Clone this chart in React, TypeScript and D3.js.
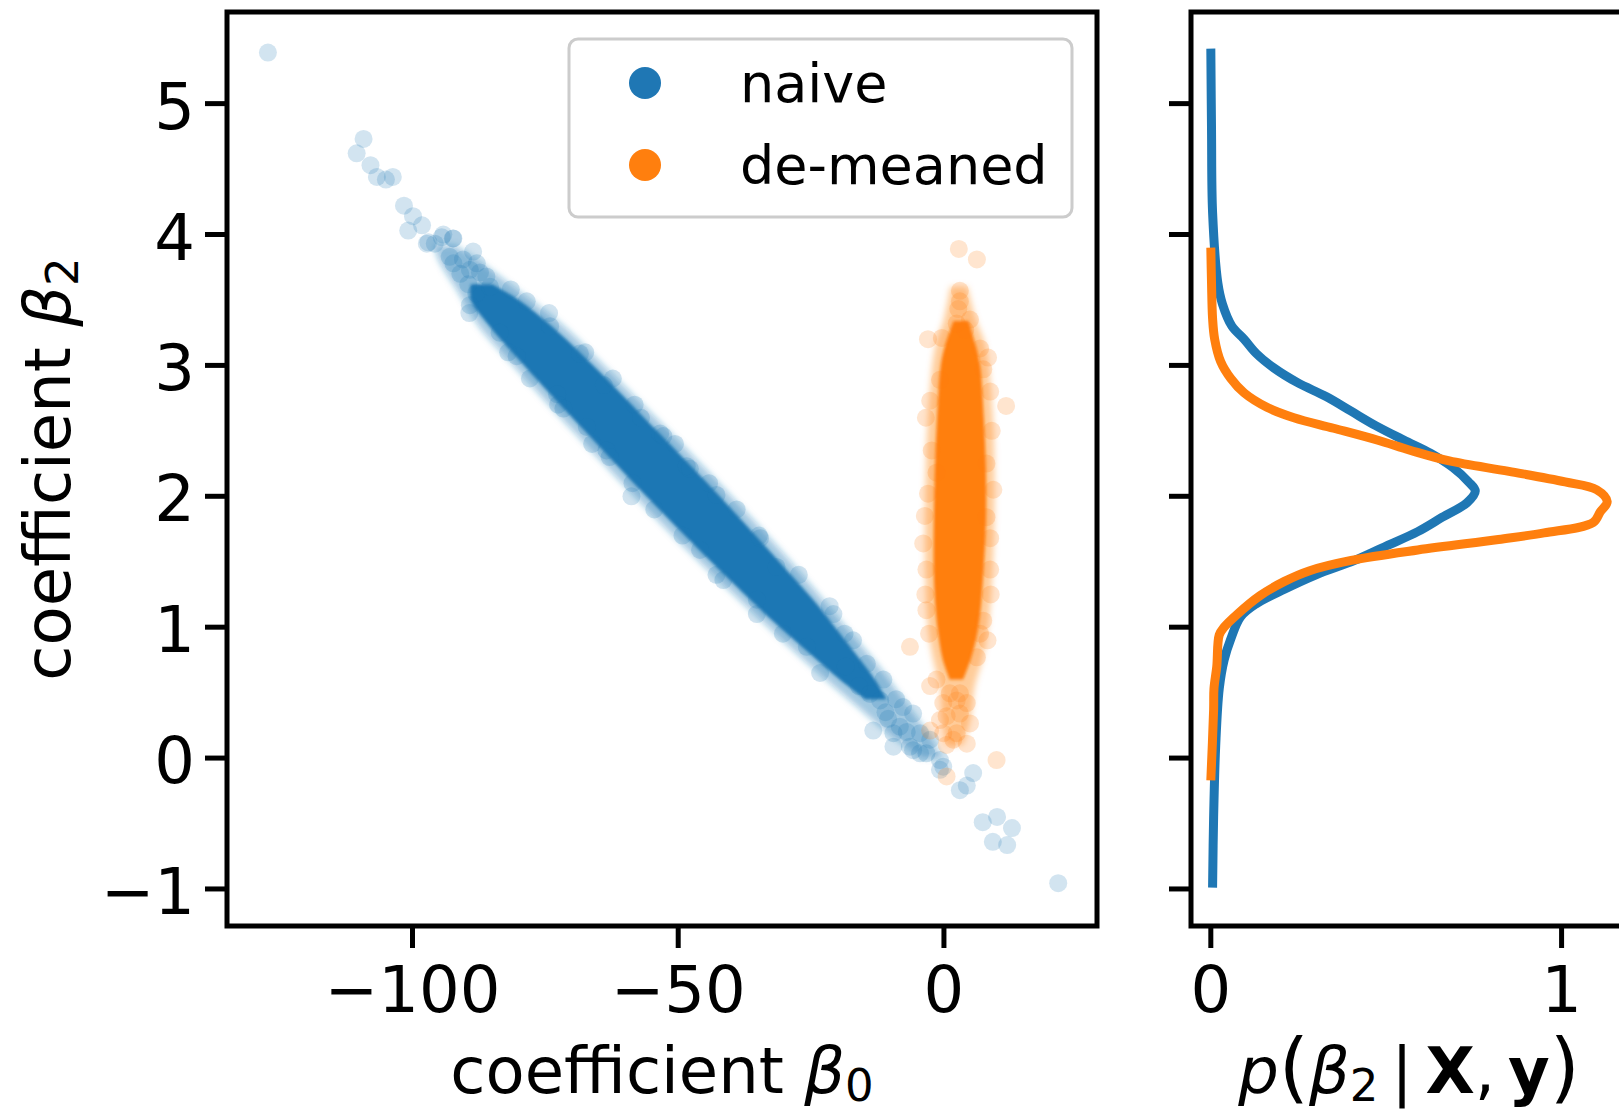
import React from 'react';
import * as d3 from 'd3';

// ---------- data ----------
const yTicks = [-1, 0, 1, 2, 3, 4, 5];
const xTicksMain = [-100, -50, 0];
const xTicksDensity = [0, 1];
const legendLabels = ['naive', 'de-meaned'];
const seriesColors = ['#1f77b4', '#ff7f0e'];

// dense core of the naive cloud: [beta2, beta0 left, beta0 right]
const naiveCore: [number, number, number][] = [
  [3.62, -89.0, -85.0], [3.5, -89.0, -80.0], [3.3, -85.5, -73.8], [3.0, -79.0, -66.0],
  [2.5, -67.6, -54.0], [2.0, -56.0, -42.2], [1.5, -43.8, -31.0], [1.2, -36.2, -24.4],
  [1.0, -30.9, -20.5], [0.8, -25.3, -16.7], [0.6, -19.6, -13.0], [0.45, -14.8, -10.8],
];
// lighter fringe of the naive cloud
const naiveFringe: [number, number, number][] = [
  [3.92, -96.0, -92.0], [3.8, -95.0, -87.5], [3.6, -92.0, -81.0], [3.3, -87.5, -71.5],
  [3.0, -81.0, -64.0], [2.5, -69.8, -51.8], [2.0, -58.2, -40.0], [1.5, -46.0, -28.8],
  [1.0, -33.0, -18.4], [0.7, -25.0, -12.2], [0.4, -16.5, -6.7], [0.15, -9.3, -2.3],
  [0.0, -4.0, -0.4],
];
// individual naive samples outside the dense core: [beta0, beta2]
const naivePoints: [number, number][] = [
  [-127.2, 5.39], [-109.2, 4.73], [-110.5, 4.62], [-107.9, 4.53], [-106.7, 4.44], [-103.7, 4.44],
  [-105.0, 4.42], [-101.6, 4.22], [-99.9, 4.14], [-98.2, 4.07], [-100.8, 4.03], [-97.0, 3.94],
  [-94.5, 3.98], [-92.4, 3.97], [-97.3, 3.93], [-95.8, 3.93], [-94.2, 4.0], [-92.3, 3.97],
  [-93.0, 3.83], [-92.3, 3.78], [-90.5, 3.81], [-88.6, 3.87], [-87.9, 3.78], [-89.2, 3.73],
  [-87.3, 3.71], [-86.1, 3.68], [-85.4, 3.6], [-91.0, 3.7], [-89.5, 3.62], [-88.0, 3.55],
  [-89.2, 3.46], [-78.5, 3.49], [-74.1, 3.3], [-68.5, 3.09], [-83.6, 3.25], [-80.4, 3.07],
  [-71.6, 2.67], [-67.2, 2.53], [-63.5, 2.35], [-53.4, 2.48], [-48.4, 2.23], [-58.8, 2.0],
  [-62.9, 2.3], [-52.8, 2.46], [-47.8, 2.21], [-42.8, 2.01], [-34.6, 1.68], [-45.9, 1.59],
  [-41.5, 1.36], [-35.2, 1.21], [-31.5, 1.46], [-21.5, 1.16], [-17.1, 0.9], [-23.3, 0.65],
  [-25.8, 0.85], [-81.5, 3.58], [-64.0, 2.85], [-57.0, 2.6], [-72.8, 2.78],
  [-89.3, 3.4], [-74.3, 3.4], [-82.0, 3.1], [-67.5, 3.1], [-77.9, 2.9], [-62.3, 2.9],
  [-72.6, 2.7], [-58.2, 2.7], [-66.2, 2.4], [-50.6, 2.4], [-58.6, 2.1], [-44.2, 2.1],
  [-54.5, 1.9], [-39.0, 1.9], [-49.2, 1.7], [-34.8, 1.7], [-42.8, 1.4], [-27.3, 1.4],
  [-35.2, 1.1], [-20.8, 1.1], [-30.3, 0.95], [-18.7, 0.95],
  [-14.5, 0.72], [-11.4, 0.6], [-13.3, 0.21], [-9.5, 0.087], [-7.7, 0.39], [-5.8, 0.34],
  [-4.5, 0.19], [-6.4, 0.087], [-2.6, 0.14], [-3.3, 0.036], [-0.75, -0.015], [-0.13, -0.066],
  [-4.5, 0.036], [-5.8, 0.06], [-9.5, 0.19], [-12.0, 0.44], [-13.9, 0.49], [-8.3, 0.24],
  [-10.5, 0.3], [-16.0, 0.55], [-18.5, 0.7], [-11.0, 0.35], [-7.0, 0.2], [-9.0, 0.45],
  [-0.75, -0.09], [3.0, -0.245], [5.5, -0.115], [4.3, -0.21], [7.3, -0.49], [10.0, -0.45],
  [12.8, -0.535], [9.2, -0.64], [11.9, -0.665], [21.5, -0.956],
];

const demeanedCore: [number, number, number][] = [
  [3.34, 1.8, 4.6], [3.15, 0.2, 6.0], [3.0, -0.6, 6.8], [2.6, -1.3, 7.5], [2.2, -1.7, 7.9],
  [1.8, -1.9, 7.9], [1.4, -1.9, 7.4], [1.1, -1.5, 6.8], [0.9, -0.9, 6.0], [0.75, -0.2, 5.0],
  [0.6, 1.1, 3.6],
];
const demeanedFringe: [number, number, number][] = [
  [3.6, 1.2, 4.4], [3.35, 0.0, 6.0], [3.15, -1.6, 7.8], [2.6, -3.0, 9.2], [2.0, -3.5, 9.5],
  [1.4, -3.5, 9.1], [1.0, -3.0, 8.3], [0.75, -2.0, 7.2], [0.55, -0.8, 5.8], [0.3, -0.3, 5.0],
  [0.1, 0.4, 3.6],
];
const demeanedPoints: [number, number][] = [
  [2.8, 3.89], [6.2, 3.81], [3.0, 3.57], [3.0, 3.49], [2.7, 3.43], [4.9, 3.35], [2.4, 3.32],
  [-3.0, 3.2], [-0.4, 3.21], [4.0, 3.27], [6.8, 3.13], [8.3, 3.06], [7.4, 2.97], [8.7, 2.8],
  [11.7, 2.69], [-2.6, 2.73], [-0.75, 2.89], [-2.3, 2.35], [-3.0, 2.02], [-1.4, 2.18],
  [8.0, 2.25], [8.0, 1.84], [-3.4, 2.6], [9.0, 2.5], [-3.6, 1.85], [9.3, 2.05], [-3.5, 1.25],
  [8.8, 1.25], [-2.8, 0.95], [8.2, 0.9],
  [1.1, 0.495], [3.0, 0.495], [-0.13, 0.42], [2.4, 0.44], [4.3, 0.42], [0.5, 0.32], [3.0, 0.34],
  [4.9, 0.265], [-0.75, 0.29], [-2.6, 0.21], [1.75, 0.14], [4.3, 0.11], [0.5, 0.1], [-0.13, 0.19],
  [2.4, 0.19], [9.9, -0.015], [0.5, -0.14], [-6.4, 0.85], [-1.4, 0.6], [-2.6, 0.55], [7.4, 1.05],
  [8.7, 1.44], [8.7, 1.68], [-3.3, 1.13], [-3.3, 1.44], [-3.9, 1.64], [6.2, 0.77], [6.8, 0.95],
];

// marginal densities: [beta2, density]
const naiveDensity: [number, number][] = [
  [5.42, 0.0], [4.8, 0.002], [4.17, 0.005], [3.63, 0.02], [3.47, 0.033], [3.3, 0.06], [3.2, 0.095],
  [3.09, 0.13], [2.98, 0.18], [2.87, 0.246], [2.76, 0.33], [2.65, 0.4], [2.54, 0.47], [2.43, 0.55],
  [2.33, 0.626], [2.22, 0.69], [2.11, 0.735], [2.04, 0.754], [1.95, 0.73], [1.84, 0.66],
  [1.73, 0.59], [1.62, 0.5], [1.51, 0.41], [1.4, 0.3], [1.29, 0.21], [1.18, 0.13], [1.08, 0.085],
  [0.91, 0.057], [0.75, 0.038], [0.53, 0.024], [0.1, 0.014], [-0.45, 0.008], [-0.99, 0.005],
];
const demeanedDensity: [number, number][] = [
  [3.9, 0.0], [3.63, 0.002], [3.36, 0.005], [3.2, 0.011], [3.03, 0.028], [2.9, 0.057],
  [2.79, 0.095], [2.68, 0.16], [2.6, 0.237], [2.52, 0.35], [2.43, 0.474], [2.35, 0.57],
  [2.27, 0.68], [2.19, 0.85], [2.11, 1.01], [2.05, 1.1], [1.96, 1.13], [1.88, 1.11], [1.8, 1.09],
  [1.72, 0.95], [1.67, 0.82], [1.59, 0.59], [1.51, 0.4], [1.43, 0.28], [1.35, 0.21], [1.24, 0.14],
  [1.1, 0.076], [1.0, 0.038], [0.94, 0.024], [0.7, 0.017], [0.53, 0.009], [0.37, 0.008], [-0.17, 0.0],
];

// ---------- layout ----------
const W = 1619;
const H = 1113;
const FONT = 'DejaVu Sans, Liberation Sans, sans-serif';
const main = { left: 227, right: 1097, top: 12, bottom: 926 };
const side = { left: 1191, right: 1627, top: 12, bottom: 926 };
const TICK = 22;
const TICK_FS = 64;

export default function App() {
  const x = d3.scaleLinear().domain([-134.9, 28.8]).range([main.left, main.right]);
  const y = d3.scaleLinear().domain([-1.283, 5.7]).range([main.bottom, main.top]);
  const xd = d3.scaleLinear().domain([-0.0565, 1.1865]).range([side.left, side.right]);

  const band = d3
    .area<[number, number, number]>()
    .y((d) => y(d[0]))
    .x0((d) => x(d[1]))
    .x1((d) => x(d[2]))
    .curve(d3.curveCatmullRom);

  const dens = d3
    .line<[number, number]>()
    .x((d) => xd(d[1]))
    .y((d) => y(d[0]))
    .curve(d3.curveCatmullRom.alpha(0.5));

  const clouds = [
    { core: naiveCore, fringe: naiveFringe, pts: naivePoints, color: seriesColors[0] },
    { core: demeanedCore, fringe: demeanedFringe, pts: demeanedPoints, color: seriesColors[1] },
  ];

  return (
    <svg
      width={W}
      height={H}
      viewBox={`0 0 ${W} ${H}`}
      style={{ position: 'absolute', left: 0, top: 0, display: 'block', background: '#fff' }}
      fontFamily={FONT}
    >
      <defs>
        <filter id="softCore" x="-20%" y="-20%" width="140%" height="140%">
          <feGaussianBlur stdDeviation="1.5" />
        </filter>
        <filter id="softFringe" x="-20%" y="-20%" width="140%" height="140%">
          <feGaussianBlur stdDeviation="3" />
        </filter>
        <clipPath id="mainClip">
          <rect x={main.left} y={main.top} width={main.right - main.left} height={main.bottom - main.top} />
        </clipPath>
      </defs>
      <rect x={0} y={0} width={W} height={H} fill="#fff" />

      {/* scatter clouds */}
      <g clipPath="url(#mainClip)">
        {clouds.map((c, i) => (
          <g key={i}>
            <path d={band(c.fringe) || ''} fill={c.color} fillOpacity={0.4} filter="url(#softFringe)" />
            <path d={band(c.core) || ''} fill={c.color} filter="url(#softCore)" />
            {c.pts.map((p, j) => (
              <circle key={j} cx={x(p[0])} cy={y(p[1])} r={9} fill={c.color} fillOpacity={0.2} />
            ))}
          </g>
        ))}
      </g>

      {/* main axes frame */}
      <rect
        x={main.left}
        y={main.top}
        width={main.right - main.left}
        height={main.bottom - main.top}
        fill="none"
        stroke="#000"
        strokeWidth={5}
      />
      {yTicks.map((t) => (
        <g key={'my' + t}>
          <line x1={main.left - TICK} x2={main.left} y1={y(t)} y2={y(t)} stroke="#000" strokeWidth={5} />
          <text x={195} y={y(t) + 25} fontSize={TICK_FS} textAnchor="end" fill="#000">
            {t < 0 ? '\u2212' + Math.abs(t) : String(t)}
          </text>
        </g>
      ))}
      {xTicksMain.map((t) => (
        <g key={'mx' + t}>
          <line x1={x(t)} x2={x(t)} y1={main.bottom} y2={main.bottom + TICK} stroke="#000" strokeWidth={5} />
          <text x={x(t)} y={1012} fontSize={TICK_FS} textAnchor="middle" fill="#000">
            {t < 0 ? '\u2212' + Math.abs(t) : String(t)}
          </text>
        </g>
      ))}
      <text x={(main.left + main.right) / 2} y={1093} fontSize={64} textAnchor="middle" fill="#000">
        coefficient <tspan fontStyle="italic">β</tspan>
        <tspan fontSize={45} dy={8}>0</tspan>
      </text>
      <text transform={`translate(70, ${(main.top + main.bottom) / 2}) rotate(-90)`} fontSize={64} textAnchor="middle" fill="#000">
        coefficient <tspan fontStyle="italic">β</tspan>
        <tspan fontSize={45} dy={8}>2</tspan>
      </text>

      {/* legend */}
      <g>
        <rect x={569} y={39} width={503} height={178} rx={9} ry={9} fill="#fff" fillOpacity={0.8} stroke="#cccccc" strokeWidth={3} />
        {legendLabels.map((lab, i) => (
          <g key={lab}>
            <circle cx={645} cy={83 + i * 82} r={16} fill={seriesColors[i]} />
            <text x={740} y={101.5 + i * 82} fontSize={54} fill="#000">
              {lab}
            </text>
          </g>
        ))}
      </g>

      {/* density panel */}
      <path d={dens(naiveDensity) || ''} fill="none" stroke={seriesColors[0]} strokeWidth={9} strokeLinejoin="round" />
      <path d={dens(demeanedDensity) || ''} fill="none" stroke={seriesColors[1]} strokeWidth={9} strokeLinejoin="round" />
      <rect
        x={side.left}
        y={side.top}
        width={side.right - side.left}
        height={side.bottom - side.top}
        fill="none"
        stroke="#000"
        strokeWidth={5}
      />
      {yTicks.map((t) => (
        <line key={'sy' + t} x1={side.left - TICK} x2={side.left} y1={y(t)} y2={y(t)} stroke="#000" strokeWidth={5} />
      ))}
      {xTicksDensity.map((t) => (
        <g key={'sx' + t}>
          <line x1={xd(t)} x2={xd(t)} y1={side.bottom} y2={side.bottom + TICK} stroke="#000" strokeWidth={5} />
          <text x={xd(t)} y={1012} fontSize={TICK_FS} textAnchor="middle" fill="#000">
            {String(t)}
          </text>
        </g>
      ))}
      <text x={(side.left + side.right) / 2} y={1093} fontSize={64} textAnchor="middle" fill="#000">
        <tspan fontStyle="italic">p</tspan>
        <tspan fontSize={77}>(</tspan>
        <tspan fontStyle="italic">β</tspan>
        <tspan fontSize={45} dy={8}>2</tspan>
        <tspan dy={-8}>{'\u2009|\u2009'}</tspan>
        <tspan fontWeight="bold">X</tspan>
        <tspan>{',\u2009'}</tspan>
        <tspan fontWeight="bold">y</tspan>
        <tspan fontSize={77}>)</tspan>
      </text>
    </svg>
  );
}
